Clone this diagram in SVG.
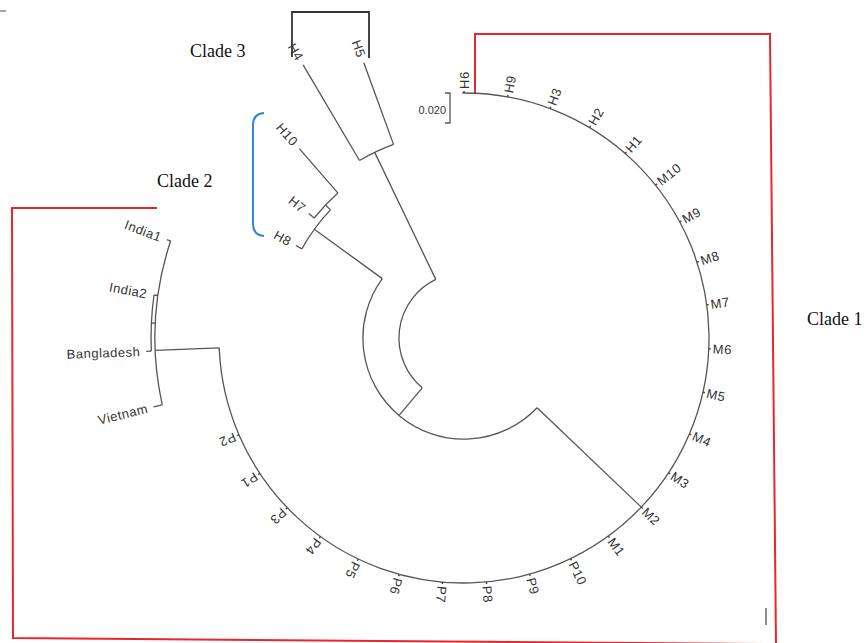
<svg xmlns="http://www.w3.org/2000/svg" width="866" height="643" viewBox="0 0 866 643">
<style>
.br{stroke:#555;stroke-width:1.3;fill:none;stroke-linejoin:miter}
.tk{stroke:#444;stroke-width:1.4}
.lf{font-family:"Liberation Sans",Arial,sans-serif;font-size:13px;fill:#333;letter-spacing:.5px}
.sc{font-family:"Liberation Sans",Arial,sans-serif;font-size:11px;fill:#333}
.cl{font-family:"Liberation Serif","Times New Roman",serif;font-size:18px;fill:#111}
.red{stroke:#e8262b;stroke-width:2;fill:none}
.blue{stroke:#2f88d8;stroke-width:2;fill:none}
.blk{stroke:#333;stroke-width:1.8;fill:none}
.e{text-anchor:end}
</style>
<rect width="866" height="643" fill="#fff"/>

<!-- clade brackets -->
<g id="clade1-bracket">
<path class="red" d="M475,94 V34 H770 L776,645"/>
<path class="red" d="M157,208 H12 L13,638 L776,644"/>
</g>
<g id="clade2-bracket"><path class="blue" d="M264,113 Q253,114 253,125 V224 Q253,235 264,236"/></g>
<g id="clade3-bracket"><path class="blk" d="M292,57 V12 H369 V58"/></g>

<g id="clade-labels">
<text class="cl" x="190" y="57">Clade 3</text>
<text class="cl" x="157" y="187">Clade 2</text>
<text class="cl" x="807" y="325">Clade 1</text>
</g>

<!-- scale bar -->
<g id="scale">
<path class="br" d="M445,93 H450 V123 H445"/>
<text class="sc e" x="446" y="114">0.020</text>
</g>

<g id="marks">
<line x1="0" y1="11" x2="6" y2="11" stroke="#666" stroke-width="1.2"/>
<line x1="766" y1="608" x2="766" y2="625" stroke="#666" stroke-width="1.5"/>
</g>

<!-- connectors / branches -->
<g id="connectors" class="br">
<path d="M537.1,407.7 A101,101 0 0 1 382.3,278.6"/>
<path d="M537.1,407.7 L641.3,507.1"/>
<path d="M399.1,415.4 L422.2,387.8"/>
<path d="M422.2,387.8 A65,65 0 0 1 435.8,279.4"/>
<path d="M435.8,279.4 L374.7,152.4"/>
<path d="M359.5,160.5 A206,206 0 0 1 393.5,144.4"/>
<path d="M359.5,160.5 L303.1,64.9"/>
<path d="M393.5,144.4 L363.8,62.7"/>
<path d="M382.3,278.6 L314.3,229.3"/>
<path d="M301.9,248.9 A185,185 0 0 1 330.5,209.9"/>
<path d="M301.9,248.9 L295.8,245.5"/>
<path d="M330.5,209.9 L325.5,205.0"/>
<path d="M314.2,218.0 A192,192 0 0 1 338.0,193.1"/>
<path d="M314.2,218.0 L308.7,213.6"/>
<path d="M338.0,193.1 L299.3,148.6"/>
<path d="M462.3,93 A245,245 0 1 1 219.2,347.8"/>
<path d="M219.2,347.8 L155.25,350.4"/>
<path d="M162.3,404.9 A309,309 0 0 1 170.6,241.0"/>
<path d="M162.3,404.9 L153.5,406.8"/>
<path d="M170.6,241.0 L166.8,239.7"/>
<path d="M151.3,351.1 A313,313 0 0 1 154.0,295.0"/>
<path d="M157.9,295.5 L154.0,295.0"/>
<path d="M155.4,323.2 L151.4,323.0"/>
<path d="M151.3,351.1 L146.3,351.3"/>
</g>

<!-- outer leaves -->
<g id="leaf-H6" transform="rotate(270 464 338)"><line class="tk" x1="709" y1="338" x2="711" y2="338"/><text class="lf" x="713" y="338" dy=".35em">H6</text></g>
<g id="leaf-H9" transform="rotate(280.28 464 338)"><line class="tk" x1="709" y1="338" x2="711" y2="338"/><text class="lf" x="713" y="338" dy=".35em">H9</text></g>
<g id="leaf-H3" transform="rotate(290.56 464 338)"><line class="tk" x1="709" y1="338" x2="711" y2="338"/><text class="lf" x="713" y="338" dy=".35em">H3</text></g>
<g id="leaf-H2" transform="rotate(300.84 464 338)"><line class="tk" x1="709" y1="338" x2="711" y2="338"/><text class="lf" x="713" y="338" dy=".35em">H2</text></g>
<g id="leaf-H1" transform="rotate(311.12 464 338)"><line class="tk" x1="709" y1="338" x2="711" y2="338"/><text class="lf" x="713" y="338" dy=".35em">H1</text></g>
<g id="leaf-M10" transform="rotate(321.4 464 338)"><line class="tk" x1="709" y1="338" x2="711" y2="338"/><text class="lf" x="713" y="338" dy=".35em">M10</text></g>
<g id="leaf-M9" transform="rotate(331.68 464 338)"><line class="tk" x1="709" y1="338" x2="711" y2="338"/><text class="lf" x="713" y="338" dy=".35em">M9</text></g>
<g id="leaf-M8" transform="rotate(341.96 464 338)"><line class="tk" x1="709" y1="338" x2="711" y2="338"/><text class="lf" x="713" y="338" dy=".35em">M8</text></g>
<g id="leaf-M7" transform="rotate(352.24 464 338)"><line class="tk" x1="709" y1="338" x2="711" y2="338"/><text class="lf" x="713" y="338" dy=".35em">M7</text></g>
<g id="leaf-M6" transform="rotate(2.52 464 338)"><line class="tk" x1="709" y1="338" x2="711" y2="338"/><text class="lf" x="713" y="338" dy=".35em">M6</text></g>
<g id="leaf-M5" transform="rotate(12.8 464 338)"><line class="tk" x1="709" y1="338" x2="711" y2="338"/><text class="lf" x="713" y="338" dy=".35em">M5</text></g>
<g id="leaf-M4" transform="rotate(23.08 464 338)"><line class="tk" x1="709" y1="338" x2="711" y2="338"/><text class="lf" x="713" y="338" dy=".35em">M4</text></g>
<g id="leaf-M3" transform="rotate(33.36 464 338)"><line class="tk" x1="709" y1="338" x2="711" y2="338"/><text class="lf" x="713" y="338" dy=".35em">M3</text></g>
<g id="leaf-M2" transform="rotate(43.64 464 338)"><line class="tk" x1="709" y1="338" x2="711" y2="338"/><text class="lf" x="713" y="338" dy=".35em">M2</text></g>
<g id="leaf-M1" transform="rotate(53.92 464 338)"><line class="tk" x1="709" y1="338" x2="711" y2="338"/><text class="lf" x="713" y="338" dy=".35em">M1</text></g>
<g id="leaf-P10" transform="rotate(64.2 464 338)"><line class="tk" x1="709" y1="338" x2="711" y2="338"/><text class="lf" x="713" y="338" dy=".35em">P10</text></g>
<g id="leaf-P9" transform="rotate(74.48 464 338)"><line class="tk" x1="709" y1="338" x2="711" y2="338"/><text class="lf" x="713" y="338" dy=".35em">P9</text></g>
<g id="leaf-P8" transform="rotate(84.76 464 338)"><line class="tk" x1="709" y1="338" x2="711" y2="338"/><text class="lf" x="713" y="338" dy=".35em">P8</text></g>
<g id="leaf-P7" transform="rotate(95.04 464 338)"><line class="tk" x1="709" y1="338" x2="711" y2="338"/><text class="lf" x="713" y="338" dy=".35em">P7</text></g>
<g id="leaf-P6" transform="rotate(105.32 464 338)"><line class="tk" x1="709" y1="338" x2="711" y2="338"/><text class="lf" x="713" y="338" dy=".35em">P6</text></g>
<g id="leaf-P5" transform="rotate(115.6 464 338)"><line class="tk" x1="709" y1="338" x2="711" y2="338"/><text class="lf" x="713" y="338" dy=".35em">P5</text></g>
<g id="leaf-P4" transform="rotate(125.88 464 338)"><line class="tk" x1="709" y1="338" x2="711" y2="338"/><text class="lf" x="713" y="338" dy=".35em">P4</text></g>
<g id="leaf-P3" transform="rotate(136.16 464 338)"><line class="tk" x1="709" y1="338" x2="711" y2="338"/><text class="lf" x="713" y="338" dy=".35em">P3</text></g>
<g id="leaf-P1" transform="rotate(146.44 464 338)"><line class="tk" x1="709" y1="338" x2="711" y2="338"/><text class="lf" x="713" y="338" dy=".35em">P1</text></g>
<g id="leaf-P2" transform="rotate(156.72 464 338)"><line class="tk" x1="709" y1="338" x2="711" y2="338"/><text class="lf" x="713" y="338" dy=".35em">P2</text></g>

<!-- Asian leaves -->
<g id="leaf-Vietnam"><text class="lf e" x="147.7" y="408.1" dy=".35em" transform="rotate(-14 147.7 408.1)">Vietnam</text></g>
<g id="leaf-Bangladesh"><text class="lf e" x="140.3" y="351.6" dy=".35em" transform="rotate(-2 140.3 351.6)">Bangladesh</text></g>
<g id="leaf-India2"><text class="lf e" x="147" y="294" dy=".35em" transform="rotate(11 147 294)">India2</text></g>
<g id="leaf-India1"><text class="lf e" x="161.1" y="237.8" dy=".35em" transform="rotate(21 161.1 237.8)">India1</text></g>

<!-- clade 2 / clade 3 leaves -->
<g id="leaf-H8" transform="rotate(28.8 464 338)"><text class="lf e" x="266" y="338" dy=".35em">H8</text></g>
<g id="leaf-H7" transform="rotate(38.7 464 338)"><text class="lf e" x="259" y="338" dy=".35em">H7</text></g>
<g id="leaf-H10" transform="rotate(49 464 338)"><text class="lf e" x="207" y="338" dy=".35em">H10</text></g>
<g id="leaf-H4" transform="rotate(59.5 464 338)"><text class="lf e" x="141" y="338" dy=".35em">H4</text></g>
<g id="leaf-H5" transform="rotate(70 464 338)"><text class="lf e" x="165" y="338" dy=".35em">H5</text></g>
</svg>
